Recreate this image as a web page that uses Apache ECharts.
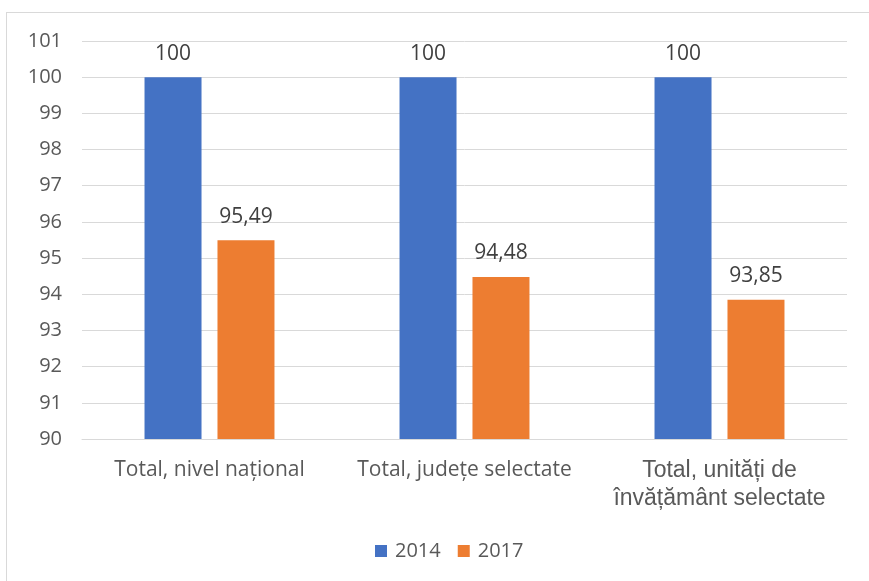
<!DOCTYPE html>
<html>
<head>
<meta charset="utf-8">
<script src="https://cdn.jsdelivr.net/npm/echarts@6/dist/echarts.min.js"></script>
<style>
  html, body { margin: 0; padding: 0; background: #fff; }
  #frame { position: absolute; left: 6px; top: 12px; width: 900px; height: 600px;
           border-top: 1px solid #d9d9d9; border-left: 1px solid #d9d9d9; }
  #main { position: absolute; left: 0; top: 0; width: 869px; height: 581px; }
</style>
</head>
<body>
<div id="frame"></div>
<div id="main"></div>
<script>
// categorii si valori
const categories = ['Total, nivel național', 'Total, județe selectate', 'Total, unități de\nînvățământ selectate'];
const years = ['2014', '2017'];
const values2014 = [100, 100, 100];
const values2017 = [95.49, 94.48, 93.85];

const fmt = v => String(v).replace('.', ',');

let chart = echarts.init(document.getElementById('main'));
chart.setOption({
    animation: false,
    color: ['#4472C4', '#ED7D31'],
    grid: { left: 82, right: 22, top: 41, bottom: 142 },
    legend: {
        data: years,
        bottom: 15,
        left: 370,
        itemWidth: 12,
        itemHeight: 12,
        itemGap: 17,
        icon: 'rect',
        textStyle: { fontFamily: 'Open Sans', fontSize: 20, color: '#595959', padding: [0, 0, 0, 3] }
    },
    xAxis: {
        type: 'category',
        data: categories,
        axisTick: { show: false },
        axisLine: { lineStyle: { color: '#d9d9d9', width: 1 } },
        axisLabel: {
            margin: 18,
            interval: 0,
            formatter: function (v) {
                if (v.indexOf('\n') >= 0) {
                    return v.split('\n').map(s => '{b|' + s + '}').join('\n');
                }
                return '{a|' + v + '}';
            },
            rich: {
                a: { fontFamily: 'Open Sans', fontSize: 21, color: '#595959', lineHeight: 27 },
                b: { fontFamily: 'Liberation Sans', fontSize: 23, color: '#595959', lineHeight: 28 }
            }
        }
    },
    yAxis: {
        type: 'value',
        min: 90,
        max: 101,
        interval: 1,
        axisLine: { show: false },
        axisTick: { show: false },
        axisLabel: { margin: 20, fontFamily: 'Open Sans', fontSize: 20, color: '#595959' },
        splitLine: { lineStyle: { color: '#d9d9d9', width: 1 } }
    },
    series: [
        {
            name: years[0],
            type: 'bar',
            data: values2014,
            barWidth: 57,
            barGap: '28%',
            label: {
                show: true, position: 'top', distance: 13,
                fontFamily: 'Open Sans', fontSize: 21, color: '#404040',
                formatter: p => fmt(p.value)
            }
        },
        {
            name: years[1],
            type: 'bar',
            data: values2017,
            barWidth: 57,
            barGap: '28%',
            label: {
                show: true, position: 'top', distance: 13,
                fontFamily: 'Open Sans', fontSize: 21, color: '#404040',
                formatter: p => fmt(p.value)
            }
        }
    ]
});
</script>
</body>
</html>
